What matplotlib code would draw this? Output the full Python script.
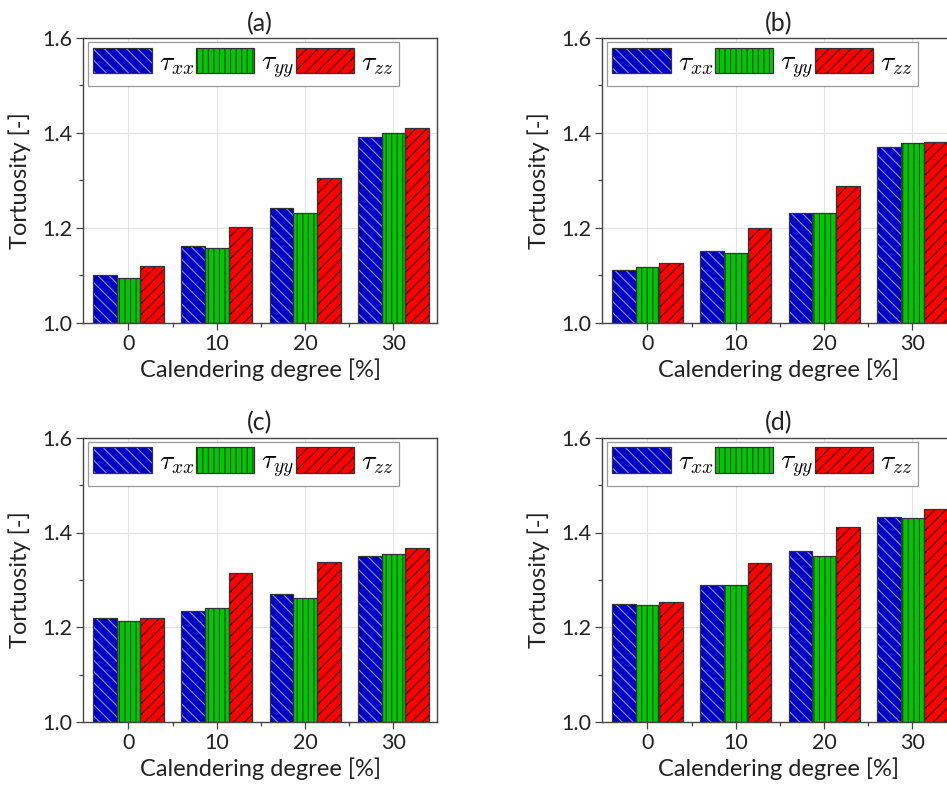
import matplotlib
matplotlib.use("Agg")
import matplotlib.pyplot as plt
import numpy as np
from matplotlib.patches import Patch
from matplotlib.legend_handler import HandlerTuple

plt.rcParams['font.family'] = ['Lato', 'DejaVu Sans']
plt.rcParams['mathtext.fontset'] = 'cm'
plt.rcParams['hatch.linewidth'] = 0.8

degrees = [0, 10, 20, 30]
panel_titles = ['(a)', '(b)', '(c)', '(d)']
series_labels = [r'$\tau_{xx}$', r'$\tau_{yy}$', r'$\tau_{zz}$']

tau_xx_a = [1.100, 1.161, 1.241, 1.391]
tau_yy_a = [1.095, 1.157, 1.231, 1.400]
tau_zz_a = [1.120, 1.202, 1.305, 1.410]

tau_xx_b = [1.111, 1.151, 1.231, 1.371]
tau_yy_b = [1.117, 1.146, 1.231, 1.379]
tau_zz_b = [1.125, 1.200, 1.289, 1.380]

tau_xx_c = [1.219, 1.234, 1.270, 1.350]
tau_yy_c = [1.214, 1.240, 1.263, 1.354]
tau_zz_c = [1.219, 1.314, 1.337, 1.367]

tau_xx_d = [1.250, 1.289, 1.360, 1.432]
tau_yy_d = [1.247, 1.289, 1.350, 1.430]
tau_zz_d = [1.254, 1.335, 1.411, 1.450]

panels = [
    (tau_xx_a, tau_yy_a, tau_zz_a),
    (tau_xx_b, tau_yy_b, tau_zz_b),
    (tau_xx_c, tau_yy_c, tau_zz_c),
    (tau_xx_d, tau_yy_d, tau_zz_d),
]

colors = ['#0000c0', '#00c800', '#ff0000']
hatches = ['\\\\\\', '|||', '///']
hatch_colors = ['#8c8cff', '#1a3a1a', '#3a0000']
edge = '#333333'

W, H = 947, 786
fig = plt.figure(figsize=(W / 100, H / 100), dpi=100)

axw = 353.4 / W
axh = 284.7 / H
lefts = [83.3 / W, 602.3 / W]
bottoms = [1 - 322.7 / H, 1 - 722.3 / H]

bw = 2.68
for i, (vals, title) in enumerate(zip(panels, panel_titles)):
    r, c = divmod(i, 2)
    ax = fig.add_axes([lefts[c], bottoms[r], axw, axh])
    x = np.array(degrees, dtype=float)
    handles = []
    for k, (v, col, hat, hc) in enumerate(zip(vals, colors, hatches, hatch_colors)):
        pos = x + (k - 1) * bw
        base = 1.0
        heights = np.array(v) - base
        ax.bar(pos, heights, bw, bottom=base, color=col, edgecolor=hc,
               hatch=hat, linewidth=0, zorder=2)
        ax.bar(pos, heights, bw, bottom=base, fill=False, edgecolor=edge,
               linewidth=0.9, zorder=3)
        handles.append((Patch(facecolor=col, edgecolor=hc, hatch=hat, linewidth=0),
                        Patch(fill=False, edgecolor=edge, linewidth=0.9)))
    ax.set_xlim(-5.1, 34.9)
    ax.set_ylim(1.0, 1.6)
    ax.set_xticks(degrees)
    ax.set_xticklabels([str(d) for d in degrees])
    ax.set_xticks([5, 15, 25], minor=True)
    ax.set_yticks([1.0, 1.2, 1.4, 1.6])
    ax.set_yticklabels(['1.0', '1.2', '1.4', '1.6'])
    ax.set_yticks([1.1, 1.3, 1.5], minor=True)
    ax.tick_params(axis='both', which='major', direction='out', length=5,
                   width=0.9, color='#444444', labelsize=15.5, labelcolor='#222222', pad=3)
    ax.tick_params(axis='both', which='minor', direction='out', length=3,
                   width=0.9, color='#444444')
    ax.grid(True, which='major', color='#e3e3e3', linewidth=0.8)
    ax.set_axisbelow(True)
    for s in ax.spines.values():
        s.set_color('#444444')
        s.set_linewidth(1.0)
    ax.set_xlabel('Calendering degree [%]', fontsize=17, color='#222222', labelpad=3)
    ax.set_ylabel('Tortuosity [-]', fontsize=17, color='#222222', labelpad=8)
    ax.set_title(title, fontsize=18, color='#222222', pad=5)
    leg = ax.legend(handles, series_labels, ncol=3, loc='upper left',
                    bbox_to_anchor=(0.013, 0.986), borderaxespad=0,
                    handler_map={tuple: HandlerTuple(ndivide=1, pad=0)},
                    fontsize=20, handlelength=2.1, handleheight=1.05,
                    handletextpad=0.25, columnspacing=0.05, borderpad=0.2,
                    fancybox=False, framealpha=1, edgecolor='#999999')
    leg.get_frame().set_linewidth(0.9)

fig.savefig('out.png', dpi=100)
